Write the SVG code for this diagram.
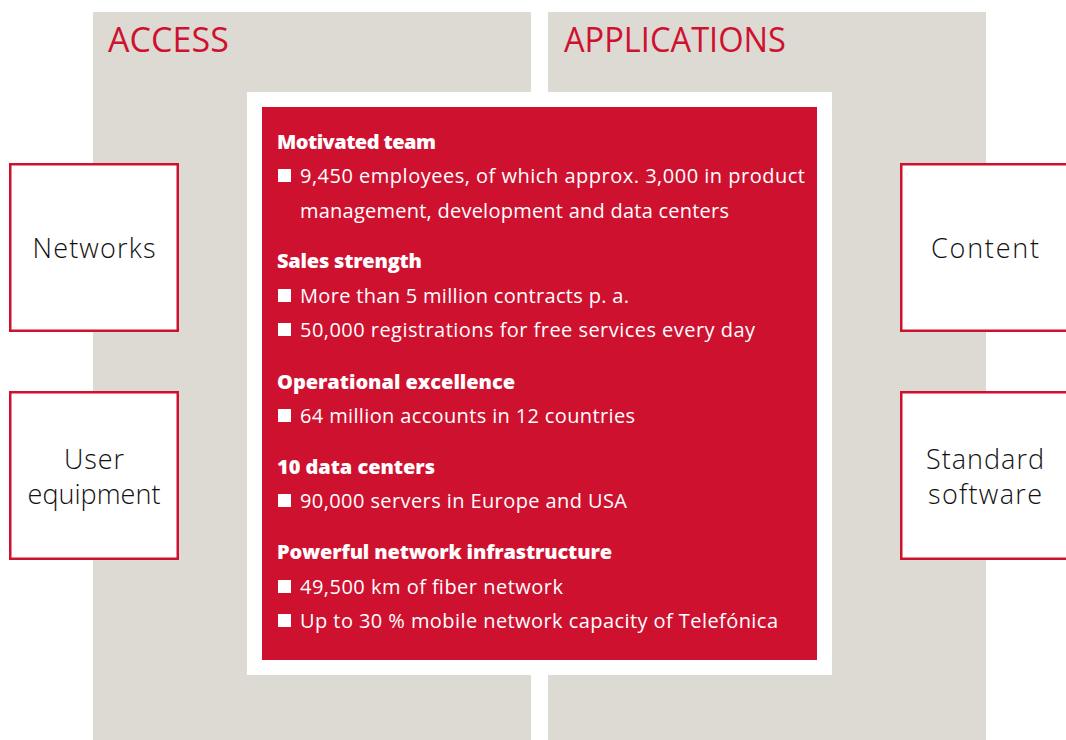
<svg xmlns="http://www.w3.org/2000/svg" width="1066" height="740" viewBox="0 0 1066 740">
<style>
.panel{fill:#DDD9D3}
.title{font-family:"Open Sans","Liberation Sans",sans-serif;font-size:34px;fill:#CF1130}
.box{fill:#FFFFFF;stroke:#CF1130;stroke-width:2.5}
.lbl{font-family:"Open Sans","Liberation Sans",sans-serif;font-size:27px;font-weight:300;fill:#111111;text-anchor:middle}
.hd{font-family:"Open Sans","Liberation Sans",sans-serif;font-size:20px;font-weight:800;fill:#FFFFFF}
.bd{font-family:"Open Sans","Liberation Sans",sans-serif;font-size:20px;fill:#FFFFFF}
.sq{fill:#FFFFFF}
</style>
<rect width="1066" height="740" fill="#FFFFFF"/>
<g id="access-panel">
<rect class="panel" x="93" y="12" width="438" height="728"/>
<text class="title" x="108" y="52" textLength="121">ACCESS</text>
</g>
<g id="applications-panel">
<rect class="panel" x="548" y="12" width="438" height="728"/>
<text class="title" x="564" y="52" textLength="222" lengthAdjust="spacingAndGlyphs">APPLICATIONS</text>
</g>
<g id="connectors"></g>
<g id="core">
<rect x="247" y="92" width="585" height="583" fill="#FFFFFF"/>
<rect x="262" y="107" width="555" height="553" fill="#CF1130"/>
<text class="hd" x="277" y="149" textLength="159">Motivated team</text>
<rect class="sq" x="278" y="169" width="13" height="13"/>
<text class="bd" x="300" y="183" textLength="505">9,450 employees, of which approx. 3,000 in product</text>
<text class="bd" x="300" y="218" textLength="429">management, development and data centers</text>
<text class="hd" x="277" y="268" textLength="145">Sales strength</text>
<rect class="sq" x="278" y="289" width="13" height="13"/>
<text class="bd" x="300" y="303" textLength="329">More than 5 million contracts p. a.</text>
<rect class="sq" x="278" y="323" width="13" height="13"/>
<text class="bd" x="300" y="337" textLength="455">50,000 registrations for free services every day</text>
<text class="hd" x="277" y="389" textLength="238">Operational excellence</text>
<rect class="sq" x="278" y="409" width="13" height="13"/>
<text class="bd" x="300" y="423" textLength="335">64 million accounts in 12 countries</text>
<text class="hd" x="277" y="474" textLength="158">10 data centers</text>
<rect class="sq" x="278" y="494" width="13" height="13"/>
<text class="bd" x="300" y="508" textLength="327">90,000 servers in Europe and USA</text>
<text class="hd" x="277" y="559" textLength="335">Powerful network infrastructure</text>
<rect class="sq" x="278" y="580" width="13" height="13"/>
<text class="bd" x="300" y="594" textLength="263">49,500 km of fiber network</text>
<rect class="sq" x="278" y="614" width="13" height="13"/>
<text class="bd" x="300" y="628" textLength="478">Up to 30 % mobile network capacity of Telefónica</text>
</g>
<g id="networks">
<rect class="box" x="10.25" y="164.25" width="167.5" height="166.5"/>
<text class="lbl" x="94" y="258" textLength="123">Networks</text>
</g>
<g id="user-equipment">
<rect class="box" x="10.25" y="392.25" width="167.5" height="166.5"/>
<text class="lbl" x="94" y="469" textLength="60">User</text>
<text class="lbl" x="94" y="504" textLength="133">equipment</text>
</g>
<g id="content">
<rect class="box" x="901.25" y="164.25" width="170" height="166.5"/>
<text class="lbl" x="985" y="258" textLength="108">Content</text>
</g>
<g id="standard-software">
<rect class="box" x="901.25" y="392.25" width="170" height="166.5"/>
<text class="lbl" x="985" y="469" textLength="118">Standard</text>
<text class="lbl" x="985" y="504" textLength="114">software</text>
</g>
</svg>
